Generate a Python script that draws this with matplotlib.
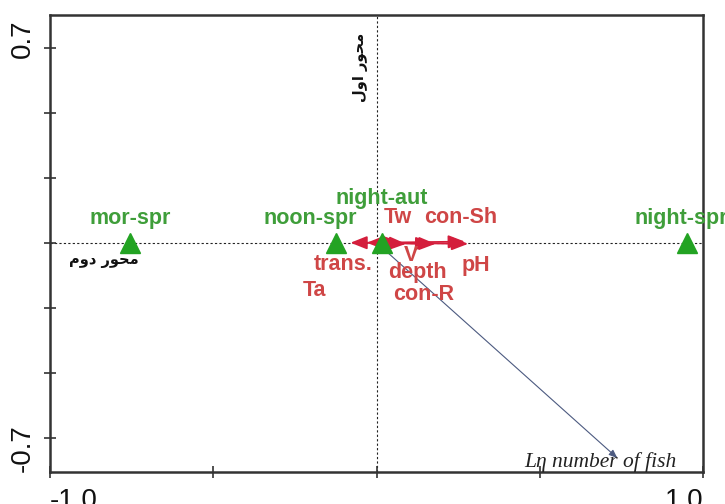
import matplotlib.pyplot as plt

# sample scores (triangles)
samples = ['mor-spr', 'noon-spr', 'night-aut', 'night-spr']
sample_x = [-0.755, -0.125, 0.015, 0.95]
sample_y = [0.0, 0.0, 0.0, 0.0]

# environmental variables (red arrows)
env_names = ['Tw', 'con-Sh', 'V', 'trans.', 'depth', 'pH', 'Ta', 'con-R']
env_x = [0.07, 0.27, 0.09, -0.08, 0.18, 0.28, -0.03, 0.17]
env_y = [0.004, 0.004, -0.004, 0.0, -0.004, -0.004, 0.0, -0.004]

# response variable
fish_name = 'L\u03b7 number of fish'
fish_x = 0.737
fish_y = -0.773

x_ticks = [-1.0, -0.5, 0.0, 0.5, 1.0]
y_ticks = [-0.7, -0.7 * 2 / 3, -0.7 / 3, 0.0, 0.7 / 3, 0.7 * 2 / 3, 0.7]

# label offsets in pixels
sample_off = {'mor-spr': (0, 24), 'noon-spr': (-26, 24),
              'night-aut': (0, 44), 'night-spr': (-6, 24)}
env_off = {'Tw': (-2, 24), 'con-Sh': (-4, 24), 'V': (5, -12),
           'trans.': (-7, -22), 'depth': (-18, -29), 'pH': (8, -22),
           'Ta': (-52, -48), 'con-R': (-9, -51)}

# Arabic axis captions, written in presentation forms in visual order
axis1_label = '\uFEDD\uFEED\uFE8D \uFEAD\uFEEE\uFEA4\uFEE3'   # محور اول
axis2_label = '\uFEE1\uFEED\uFEA9 \uFEAD\uFEEE\uFEA4\uFEE3'   # محور دوم

green_txt = '#3f9e3a'
green_mk = '#23a323'
red_txt = '#cf4646'
red_arrow = '#d41e3c'

fig = plt.figure(figsize=(7.25, 5.04), dpi=100)
ax = fig.add_axes([0.069, 0.0635, 0.901, 0.9065])
ax.set_xlim(-1.0, 1.0)
ax.set_ylim(-0.823, 0.817)

ax.axhline(0, color='#222222', lw=0.8, ls=(0, (2, 2)), zorder=1)
ax.axvline(0, color='#222222', lw=0.8, ls=(0, (2, 2)), zorder=1)

# fish arrow
ax.annotate('', xy=(fish_x, fish_y), xytext=(0, 0),
            arrowprops=dict(arrowstyle='-|>,head_length=0.5,head_width=0.2',
                            color='#4c5a80', lw=0.8, shrinkA=0, shrinkB=0),
            zorder=2)
ax.annotate(fish_name, xy=(fish_x, fish_y), xytext=(-17, -4),
            textcoords='offset pixels', ha='center', va='center',
            fontsize=15.5, style='italic', family='Liberation Serif',
            color='#222222', zorder=5)

# environmental arrows
for name, x, y in zip(env_names, env_x, env_y):
    ax.annotate('', xy=(x, y), xytext=(0, 0),
                arrowprops=dict(arrowstyle='-|>,head_length=1.0,head_width=0.4',
                                color=red_arrow, lw=1.3, shrinkA=0, shrinkB=0),
                zorder=3)
    ax.annotate(name, xy=(x, y), xytext=env_off[name],
                textcoords='offset pixels', ha='center', va='center',
                fontsize=15.5, fontweight='bold', family='Liberation Sans',
                color=red_txt, zorder=5)

# sample triangles
ax.plot(sample_x, sample_y, ls='none', marker='^', ms=15,
        color=green_mk, zorder=4)
for name, x, y in zip(samples, sample_x, sample_y):
    ax.annotate(name, xy=(x, y), xytext=sample_off[name],
                textcoords='offset pixels', ha='center', va='center',
                fontsize=15.5, fontweight='bold', family='Liberation Sans',
                color=green_txt, zorder=5, annotation_clip=False)

# axis captions
ax.text(-0.05, 0.63, axis1_label, rotation=90, ha='center', va='center',
        fontsize=10.5, fontweight='bold', family='DejaVu Sans', color='#111111')
ax.text(-0.835, -0.065, axis2_label, ha='center', va='center',
        fontsize=10.5, fontweight='bold', family='DejaVu Sans', color='#111111')

# frame and ticks
for side in ax.spines.values():
    side.set_linewidth(1.8)
    side.set_color('#333333')
ax.set_xticks(x_ticks)
ax.set_yticks(y_ticks)
ax.set_xticklabels([])
ax.set_yticklabels([])
ax.tick_params(direction='inout', length=8, width=1.2, color='#333333')

tick_font = dict(fontsize=20, family='Liberation Sans', color='#111111')
ax.text(0.0, -0.035, '-1.0', transform=ax.transAxes, ha='left', va='top', **tick_font)
ax.text(1.0, -0.035, '1.0', transform=ax.transAxes, ha='right', va='top', **tick_font)
ax.text(-0.022, 0.99, '0.7', transform=ax.transAxes, rotation=90,
        ha='right', va='top', **tick_font)
ax.text(-0.022, 0.0, '-0.7', transform=ax.transAxes, rotation=90,
        ha='right', va='bottom', **tick_font)

fig.savefig('out.png', dpi=100)
